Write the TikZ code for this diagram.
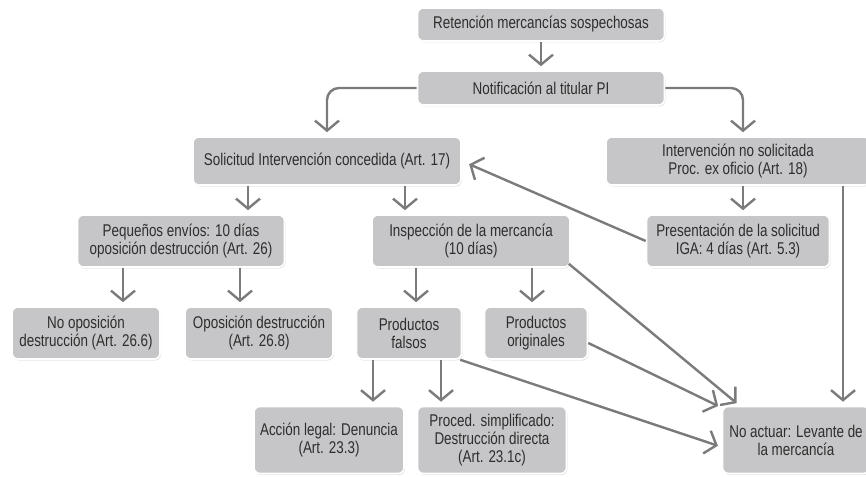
\documentclass[tikz,border=0pt]{standalone}
\usepackage{fontspec}
\setmainfont[FakeStretch=0.79]{Liberation Sans}
\usepackage{xcolor}
\usepackage{tikz}
\usetikzlibrary{arrows.meta}
\usetikzlibrary{shadows}

\definecolor{boxgray}{HTML}{C6C6C8}
\definecolor{arrgray}{HTML}{7B7B7D}
\definecolor{txtgray}{HTML}{2E2E2E}

\begin{document}
\begin{tikzpicture}[
    x=1pt, y=-1pt,
    >={Straight Barb[length=10pt, width=24pt, line width=2.4pt]},
    box/.style={rectangle, rounded corners=6pt, fill=boxgray, draw=white, line width=1.6pt,
        align=center, inner sep=0pt, text=txtgray, font=\fontsize{17}{18}\selectfont,
        drop shadow={shadow xshift=1pt, shadow yshift=-1.5pt, opacity=0.2}},
    arr/.style={->, draw=arrgray, line width=2.4pt, shorten >=4pt}
]
\useasboundingbox (0,0) rectangle (866,476);

% Nodes :
\node[box, minimum width=247pt, minimum height=33pt] (ret) at (541, 24.5) {Retención mercancías sospechosas};
\node[box, minimum width=247pt, minimum height=34pt] (noti) at (541, 88) {Notificación al titular PI};

\node[box, minimum width=268pt, minimum height=48pt] (soli) at (327, 161) {Solicitud Intervención concedida (Art. 17)};
\node[box, minimum width=264pt, minimum height=48pt] (inter) at (738, 161) {Intervención no solicitada\\Proc. ex oficio (Art. 18)};

\node[box, minimum width=207pt, minimum height=52pt] (peq) at (181, 241) {Pequeños envíos: 10 días\\oposición destrucción (Art. 26)};
\node[box, minimum width=198pt, minimum height=52pt] (insp) at (471, 241) {Inspección de la mercancía\\(10 días)};
\node[box, minimum width=183pt, minimum height=52pt] (pres) at (738, 241) {Presentación de la solicitud\\IGA: 4 días (Art. 5.3)};

\node[box, minimum width=148pt, minimum height=52pt] (noop) at (86, 333) {No oposición\\destrucción (Art. 26.6)};
\node[box, minimum width=148pt, minimum height=52pt] (oposd) at (259, 333) {Oposición destrucción\\(Art. 26.8)};
\node[box, minimum width=105pt, minimum height=52pt] (falsos) at (409, 333) {Productos\\falsos};
\node[box, minimum width=103pt, minimum height=52pt] (orig) at (536, 333) {Productos\\originales};

\node[box, minimum width=150pt, minimum height=67pt] (accion) at (329, 440) {Acción legal: Denuncia\\(Art. 23.3)};
\node[box, minimum width=149pt, minimum height=67pt] (proced) at (492, 440) {Proced. simplificado:\\Destrucción directa\\(Art. 23.1c)};
\node[box, minimum width=147pt, minimum height=67pt] (noact) at (796, 440) {No actuar: Levante de\\la mercancía};

% Edges :
\draw[arr] (ret) -- (noti);
\draw[arr, rounded corners=12pt] (noti.west) -| (soli.north);
\draw[arr, rounded corners=12pt] (noti.east) -| ([xshift=5pt]inter.north);

\draw[arr] ([xshift=67pt]peq.north |- soli.south) -- ([xshift=67pt]peq.north);
\draw[arr] ([xshift=-66pt]insp.north |- soli.south) -- ([xshift=-66pt]insp.north);
\draw[arr] ([xshift=5pt]inter.south) -- ([xshift=5pt]pres.north);
\draw[arr] ([xshift=47pt]noact.north |- inter.south) -- ([xshift=47pt]noact.north);
\draw[arr, shorten >=8pt] (pres.west) -- (soli.east);

\draw[arr] ([xshift=37pt]noop.north |- peq.south) -- ([xshift=37pt]noop.north);
\draw[arr] ([xshift=-19pt]oposd.north |- peq.south) -- ([xshift=-19pt]oposd.north);
\draw[arr] ([xshift=7pt]falsos.north |- insp.south) -- ([xshift=7pt]falsos.north);
\draw[arr] ([xshift=-4pt]orig.north |- insp.south) -- ([xshift=-4pt]orig.north);
\draw[arr] ([xshift=-2pt,yshift=4pt]insp.south east) -- ([xshift=18pt]noact.north west);
\draw[arr] ([yshift=-10pt]orig.east) -- ([yshift=-2pt]noact.north west);

\draw[arr] ([xshift=44pt]accion.north |- falsos.south) -- ([xshift=44pt]accion.north);
\draw[arr] ([xshift=-51pt]proced.north |- falsos.south) -- ([xshift=-51pt]proced.north);
\draw[arr] ([xshift=-2pt]falsos.south east) -- ([yshift=-7pt]noact.west);

\end{tikzpicture}
\end{document}
